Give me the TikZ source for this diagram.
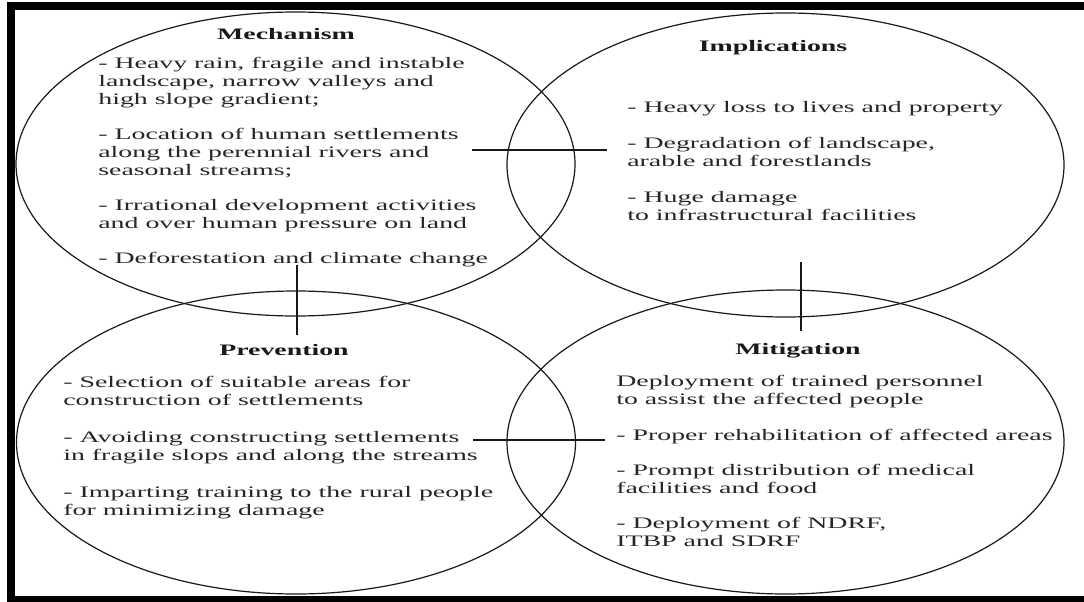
\documentclass[tikz,border=0pt]{standalone}
\usepackage{fontspec}
\setmainfont{Liberation Serif}
\usetikzlibrary{shapes.geometric}
\tikzset{
  circ/.style={draw=black!90, ellipse, inner sep=0pt, line width=1.2pt},
  ttl/.style={anchor=base, inner sep=0pt, transform shape, xscale=1.74, font=\fontsize{16}{18}\selectfont\bfseries, text=black!90},
  item/.style={anchor=base west, inner sep=0pt, transform shape, xscale=1.74, align=left, font=\fontsize{16}{18}\selectfont, text=black!85},
  link/.style={draw=black!90, line width=1.5pt},
  frame/.style={fill=black}
}
\begin{document}
\begin{tikzpicture}[x=1pt,y=-1pt]
\useasboundingbox (0,0) rectangle (1084,602);
\fill[white] (0,0) rectangle (1084,602);
% frame
\fill[frame] (7,2) rectangle (1084,10);
\fill[frame] (7,2) rectangle (15,602);
\fill[frame] (7,596) rectangle (1084,602);
% ellipses
\node[circ, minimum width=559pt, minimum height=304pt] (mech) at (295.5,164) {};
\node[circ, minimum width=557pt, minimum height=304pt] (impl) at (785.5,165) {};
\node[circ, minimum width=559pt, minimum height=303pt] (prev) at (296,442.5) {};
\node[circ, minimum width=557pt, minimum height=304pt] (miti) at (785.5,442) {};
% connectors
\coordinate (mi1) at (472,150);
\coordinate (mi2) at (607,150);
\coordinate (mp1) at (297,265);
\coordinate (mp2) at (297,335);
\coordinate (im1) at (801,262);
\coordinate (im2) at (801,331);
\coordinate (pm1) at (473,440);
\coordinate (pm2) at (605,440);
\draw[link] (mi1) -- (mi2);
\draw[link] (mp1) -- (mp2);
\draw[link] (im1) -- (im2);
\draw[link] (pm1) -- (pm2);
% Mechanism
\node[ttl] (tmech) at (286,40) {Mechanism};
\node[item] (m1) at (98,104) {- Heavy rain, fragile and instable\\landscape, narrow valleys and\\high slope gradient;};
\node[item] (m2) at (98,175) {- Location of human settlements\\along the perennial rivers and\\seasonal streams;};
\node[item] (m3) at (98,228) {- Irrational development activities\\and over human pressure on land};
\node[item] (m4) at (98,263) {- Deforestation and climate change};
% Implications
\node[ttl] (timpl) at (773,52) {Implications};
\node[item] (i1) at (627,112) {- Heavy loss to lives and property};
\node[item] (i2) at (627,166) {- Degradation of landscape,\\arable and forestlands};
\node[item] (i3) at (627,220) {- Huge damage\\to infrastructural facilities};
% Prevention
\node[ttl] (tprev) at (284,355) {Prevention};
\node[item] (p1) at (63,405) {- Selection of suitable areas for\\construction of settlements};
\node[item] (p2) at (63,460) {- Avoiding constructing settlements\\in fragile slops and along the streams};
\node[item] (p3) at (63,515) {- Imparting training to the rural people\\for minimizing damage};
% Mitigation
\node[ttl] (tmiti) at (798,354) {Mitigation};
\node[item] (g1) at (616,404) {Deployment of trained personnel\\to assist the affected people};
\node[item] (g2) at (616,440) {- Proper rehabilitation of affected areas};
\node[item] (g3) at (616,493) {- Prompt distribution of medical\\facilities and food};
\node[item] (g4) at (616,546) {- Deployment of NDRF,\\ITBP and SDRF};
\end{tikzpicture}
\end{document}
